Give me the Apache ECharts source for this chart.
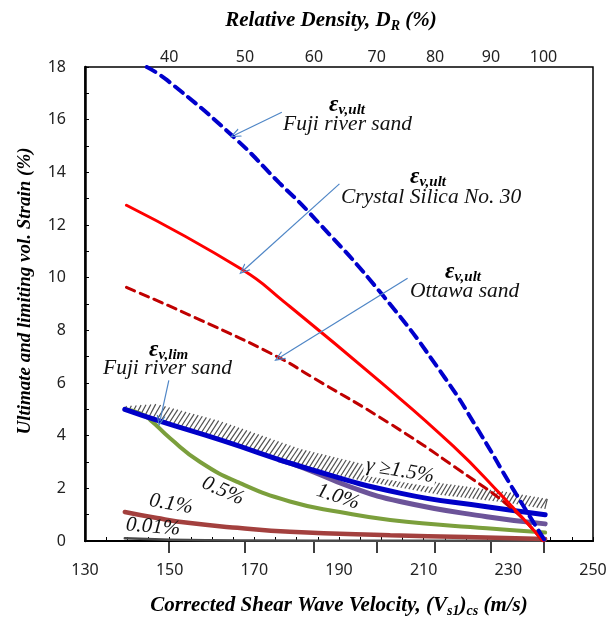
<!DOCTYPE html>
<html>
<head>
<meta charset="utf-8">
<script src="https://cdn.jsdelivr.net/npm/echarts@6.0.0/dist/echarts.min.js"></script>
<style>
  html, body { margin: 0; padding: 0; background: #fff; }
  #main { width: 616px; height: 620px; }
</style>
</head>
<body>
<div id="main"></div>
<script>
// top axis: relative density ticks and where they sit on the Vs scale
const drLabels = [40, 50, 60, 70, 80, 90, 100];
const drAtVs = [149.9, 167.8, 184.1, 198.9, 212.7, 225.9, 238.3];

// ultimate strains
const fujiUltX = [144.6, 149.4, 165.4, 175.9, 182.8, 200.5, 215.0, 223.3, 231.2, 238.5];
const fujiUltY = [18.0, 17.5, 15.3, 13.6, 12.5, 9.3, 6.2, 4.1, 1.95, 0.05];
const silicaUltX = [139.8, 167.2, 176.9, 199.7, 217.0, 228.0, 238.3];
const silicaUltY = [12.75, 10.3, 9.1, 6.05, 3.6, 1.8, 0.0];
const ottawaUltX = [139.8, 157.3, 175.4, 183.9, 202.1, 217.8, 231.2, 237.9];
const ottawaUltY = [9.63, 8.39, 7.0, 6.2, 4.45, 2.76, 1.18, 0.04];

// limiting strains (Fuji river sand), by shear strain level
const limX = [139.4, 147.7, 162.7, 181.6, 204.4, 224.9, 238.7];
const limY = [5.0, 4.55, 3.8, 2.8, 1.82, 1.3, 1.0];
const g10X = [176, 181.6, 192.6, 204.4, 224.9, 238.7];
const g10Y = [3.07, 2.78, 2.06, 1.5, 0.92, 0.65];
const g05X = [139.4, 143, 145.4, 150.1, 157.2, 166.6, 178.4, 190.2, 202.1, 224.9, 238.7];
const g05Y = [5.0, 4.85, 4.6, 3.9, 3.0, 2.2, 1.5, 1.1, 0.8, 0.48, 0.32];
const g01X = [139.4, 147, 154.8, 166, 178.4, 202.1, 220, 238.7];
const g01Y = [1.1, 0.87, 0.68, 0.5, 0.35, 0.22, 0.15, 0.08];
const g001X = [139.4, 150, 170, 200, 238.7];
const g001Y = [0.1, 0.05, 0.02, 0.01, 0.01];

// hatched band (gamma >= 1.5%)
const hatchX = [139.4, 147, 162, 180.8, 195, 214, 230, 239.2];
const hatchLow = [5.0, 4.6, 3.85, 2.85, 2.3, 1.75, 1.45, 1.2];
const hatchTop = [5.12, 5.2, 4.55, 3.5, 2.95, 2.2, 1.85, 1.6];

// annotation arrows [tailX, tailY, tipX, tipY]
const arrowFujiUlt = [176.5, 16.28, 165.4, 15.42];
const arrowSilica = [190.1, 13.56, 167.4, 10.27];
const arrowOttawa = [206.2, 9.98, 175.8, 6.95];
const arrowFujiLim = [149.8, 6.1, 147.7, 4.55];

function zip(xs, ys) { return xs.map((x, i) => [x, ys[i]]); }

const serif = '"Liberation Serif", "DejaVu Serif", serif';
const sans = '"Noto Sans", "Open Sans", sans-serif';

function line(name, xs, ys, color, width, type, z) {
  return {
    name: name, type: 'line', data: zip(xs, ys), smooth: 0.5,
    showSymbol: false, symbol: 'none', z: z || 2,
    lineStyle: { color: color, width: width, type: type || 'solid', cap: 'round' }
  };
}

function arrow(a) {
  return [{ coord: [a[0], a[1]] }, { coord: [a[2], a[3]] }];
}

// piecewise linear lookup of a pixel polyline at pixel x
function yAt(pts, px) {
  if (px <= pts[0][0]) return pts[0][1];
  for (let i = 1; i < pts.length; i++) {
    if (px <= pts[i][0]) {
      const t = (px - pts[i - 1][0]) / (pts[i][0] - pts[i - 1][0]);
      return pts[i - 1][1] + t * (pts[i][1] - pts[i - 1][1]);
    }
  }
  return pts[pts.length - 1][1];
}

function renderHatch(params, api) {
  const top = hatchX.map((x, i) => api.coord([x, hatchTop[i]]));
  const low = hatchX.map((x, i) => api.coord([x, hatchLow[i]]));
  const x0 = top[0][0], x1 = top[top.length - 1][0];
  const kids = [];
  for (let px = x0; px <= x1; px += 4) {
    const yl = yAt(low, px);
    const yt = yAt(top, px);
    const h = yl - yt;
    if (h < 1) continue;
    let ex = px + h * 0.55;
    if (ex > x1) ex = x1;
    kids.push({
      type: 'line',
      shape: { x1: px, y1: yl, x2: ex, y2: yAt(top, ex) },
      style: { stroke: '#505050', lineWidth: 1.2 }
    });
  }
  return { type: 'group', children: kids };
}

const chevron = 'path://M0,10 L5,0 L10,10 L8.6,10 L5,2.6 L1.4,10 Z';

const chart = echarts.init(document.getElementById('main'));

const subRich = {
  b: { fontFamily: serif, fontSize: 21, fontWeight: 'bold', fontStyle: 'italic', color: '#000', lineHeight: 24 },
  sub: { fontFamily: serif, fontSize: 14, fontWeight: 'bold', fontStyle: 'italic', color: '#000', lineHeight: 24, verticalAlign: 'bottom', padding: [7, 0, 0, 0] }
};

function epsText(x, y, sub) {
  return {
    type: 'text', x: x, y: y, z: 100,
    style: {
      text: '{e|ε}{s|' + sub + '}',
      textVerticalAlign: 'middle', verticalAlign: 'middle',
      rich: {
        e: { fontFamily: serif, fontSize: 23, fontWeight: 'bold', fontStyle: 'italic', fill: '#000', lineHeight: 26 },
        s: { fontFamily: serif, fontSize: 15, fontWeight: 'bold', fontStyle: 'italic', fill: '#000', lineHeight: 26, verticalAlign: 'bottom', padding: [8, 0, 0, 0] }
      }
    }
  };
}

function itText(x, y, txt, rot, bg) {
  const st = {
    text: txt, font: 'italic 21px ' + serif, fill: '#111',
    textAlign: 'center', align: 'center', textVerticalAlign: 'middle', verticalAlign: 'middle'
  };
  if (bg) { st.backgroundColor = '#fff'; st.padding = [0, 2, 0, 2]; }
  return { type: 'text', x: x, y: y, rotation: rot || 0, z: 100, style: st };
}

function leftText(x, y, txt) {
  return {
    type: 'text', x: x, y: y, z: 100,
    style: { text: txt, font: 'italic 21.5px ' + serif, fill: '#111', textVerticalAlign: 'middle', verticalAlign: 'middle' }
  };
}

chart.setOption({
  backgroundColor: '#fff',
  animation: false,
  grid: {
    left: 85, right: 23, top: 67, bottom: 79, outerBoundsMode: 'none', containLabel: false,
    show: true, borderColor: '#000', borderWidth: 1.5, backgroundColor: 'transparent'
  },
  xAxis: [
    {
      type: 'value', min: 130, max: 250, interval: 5,
      name: '{b|Corrected Shear Wave Velocity, (V}{sub|s1}{b|)}{sub|cs}{b| (m/s)}',
      nameLocation: 'middle', nameGap: 53,
      nameTextStyle: { rich: subRich },
      axisLine: { show: true, onZero: false, lineStyle: { color: '#000', width: 2 } },
      axisTick: { show: true, inside: true, length: 4, lineStyle: { color: '#000', width: 1 } },
      axisLabel: {
        margin: 21, fontFamily: sans, fontSize: 16, color: '#222',
        formatter: v => ((v - 130) % 20 === 0 ? String(v) : '')
      },
      splitLine: { show: false }
    },
    {
      type: 'value', position: 'top', min: 130, max: 250,
      name: '{b|Relative Density, D}{sub|R}{b| (%)}',
      nameLocation: 'middle', nameGap: 34,
      nameTextStyle: { rich: subRich, padding: [0, 16, 0, 0] },
      axisLine: { show: true, lineStyle: { color: '#000', width: 1.5 } },
      axisTick: { show: true, inside: true, length: 12, customValues: drAtVs, lineStyle: { color: '#000', width: 1.5 } },
      axisLabel: {
        customValues: drAtVs, margin: 2, fontFamily: sans, fontSize: 16, color: '#222',
        formatter: v => {
          for (let i = 0; i < drAtVs.length; i++) if (Math.abs(drAtVs[i] - v) < 0.01) return String(drLabels[i]);
          return '';
        }
      },
      splitLine: { show: false }
    }
  ],
  yAxis: {
    type: 'value', min: 0, max: 18, interval: 1,
    axisLine: { show: true, lineStyle: { color: '#000', width: 2.5 } },
    axisTick: { show: true, inside: true, length: 4, lineStyle: { color: '#000', width: 1 } },
    axisLabel: {
      margin: 19, fontFamily: sans, fontSize: 16, color: '#222',
      formatter: v => (v % 2 === 0 ? String(v) : '')
    },
    splitLine: { show: false }
  },
  series: [
    {
      name: 'hatch', type: 'custom', renderItem: renderHatch,
      data: [[hatchX[0], hatchLow[0]]], z: 1, silent: true, clip: true
    },
    line('0.01%', g001X, g001Y, '#4a4a4a', 2.5),
    line('0.1%', g01X, g01Y, '#a3403e', 4.5),
    line('0.5%', g05X, g05Y, '#7b9f3c', 4),
    line('1.0%', g10X, g10Y, '#6c5499', 5),
    line('lim', limX, limY, '#0000c8', 5, 'solid', 3),
    line('Ottawa', ottawaUltX, ottawaUltY, '#c00000', 3, [9, 6], 4),
    line('Silica', silicaUltX, silicaUltY, '#ff0000', 3, 'solid', 4),
    line('Fuji', fujiUltX, fujiUltY, '#0000cc', 4, [10, 7], 4),
    {
      name: 'arrows', type: 'line', data: [], z: 5, silent: true,
      markLine: {
        silent: true, animation: false,
        symbol: ['none', chevron], symbolSize: [9, 11],
        label: { show: false },
        lineStyle: { color: '#4f86c6', width: 1.2, type: 'solid' },
        emphasis: { disabled: true },
        data: [arrow(arrowFujiUlt), arrow(arrowSilica), arrow(arrowOttawa), arrow(arrowFujiLim)]
      }
    }
  ],
  graphic: [
    {
      type: 'text', x: 25, y: 291, rotation: Math.PI / 2, z: 100,
      style: {
        text: 'Ultimate and limiting vol. Strain (%)', font: 'italic bold 19px ' + serif, fill: '#000',
        textAlign: 'center', align: 'center', textVerticalAlign: 'middle', verticalAlign: 'middle'
      }
    },
    epsText(329, 105, 'v,ult'),
    leftText(283, 124, 'Fuji river sand'),
    epsText(410, 177, 'v,ult'),
    leftText(341, 197, 'Crystal Silica No. 30'),
    epsText(445, 272, 'v,ult'),
    leftText(410, 291, 'Ottawa sand'),
    epsText(149, 350, 'v,lim'),
    leftText(103, 368, 'Fuji river sand'),
    itText(400, 471, 'γ ≥1.5%', -0.17, true),
    itText(338, 497, '1.0%', -0.32),
    itText(223, 491, '0.5%', -0.42),
    itText(171, 504, '0.1%', -0.17),
    itText(153, 527, '0.01%', -0.08)
  ]
});
</script>
</body>
</html>
